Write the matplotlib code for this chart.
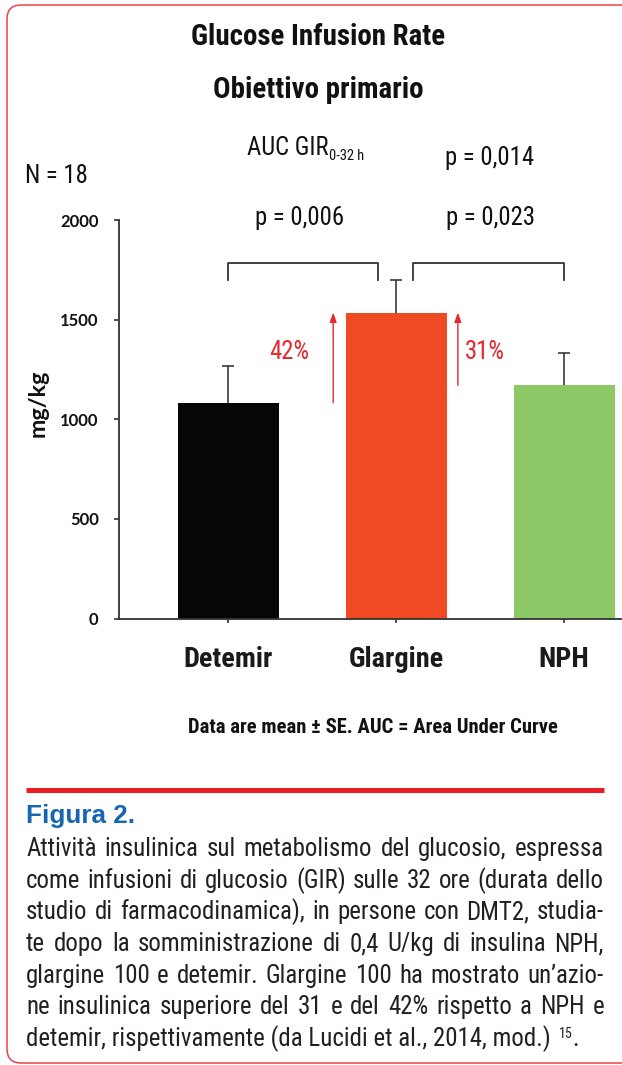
import os
import matplotlib
matplotlib.use('Agg')
import matplotlib.pyplot as plt
from matplotlib import font_manager
from matplotlib.font_manager import FontProperties
from matplotlib.patches import FancyBboxPatch

# ---------------- data ----------------
categories = ['Detemir', 'Glargine', 'NPH']
gir_auc = [1083, 1535, 1170]          # mg/kg
gir_se = [182, 162, 165]              # SE (upper)
bar_colors = ['#060606', '#ef4a24', '#8dc866']
yticks = [0, 500, 1000, 1500, 2000]
p_values = ['p = 0,006', 'p = 0,023', 'p = 0,014']
pct_labels = ['42%', '31%']

title1 = 'Glucose Infusion Rate'
title2 = 'Obiettivo primario'
note = 'Data are mean \u00b1 SE. AUC = Area Under Curve'
fig_label = 'Figura 2.'
body_lines = [
    "Attività insulinica sul metabolismo del glucosio, espressa",
    "come infusioni di glucosio (GIR) sulle 32 ore (durata dello",
    "studio di farmacodinamica), in persone con DMT2, studia-",
    "te dopo la somministrazione di 0,4 U/kg di insulina NPH,",
    "glargine 100 e detemir. Glargine 100 ha mostrato un\u2019azio-",
    "ne insulinica superiore del 31 e del 42% rispetto a NPH e",
    "detemir, rispettivamente (da Lucidi et al., 2014, mod.)",
]

# ---------------- fonts ----------------
files = [f.fname for f in font_manager.fontManager.ttflist]
avail = {f.name for f in font_manager.fontManager.ttflist}
PREF = ['liberationsansnarrow', 'robotocondensed', 'notosans-condensed', 'notosanscondensed',
        'opensans_condensed', 'opensanscondensed', 'opensans-condensed', 'dejavusanscondensed']


def find_narrow(bold):
    cands = []
    for fn in files:
        b = os.path.basename(fn).lower()
        if not ('condensed' in b or 'narrow' in b):
            continue
        if any(k in b for k in ['italic', 'semicond', 'extracond', 'ultracond', 'oblique']):
            continue
        isbold = 'bold' in b and not any(k in b for k in ['semibold', 'extrabold', 'ultrabold', 'demibold'])
        isreg = not any(k in b for k in ['bold', 'light', 'thin', 'black', 'medium', 'heavy', 'book'])
        if (bold and isbold) or ((not bold) and isreg):
            rank = len(PREF)
            for i, p in enumerate(PREF):
                if b.startswith(p):
                    rank = i
                    break
            cands.append((rank, b, fn))
    cands.sort()
    return cands[0][2] if cands else None


NARROW_REG = find_narrow(False)
NARROW_BOLD = find_narrow(True)
BOLDSANS = 'Lato' if 'Lato' in avail else 'DejaVu Sans'


def fp(bold=False, size=12):
    path = NARROW_BOLD if bold else NARROW_REG
    if path:
        return FontProperties(fname=path, size=size)
    return FontProperties(family='Liberation Sans', weight='bold' if bold else 'normal', size=size)


RED = '#e8262d'
DARK = '#231f20'
INK = '#111111'

W, H = 622, 1065
fig = plt.figure(figsize=(W / 100, H / 100), dpi=100)
rend = fig.canvas.get_renderer()


def width(t):
    return t.get_window_extent(renderer=rend).width


def fit(texts, targets):
    s = sum(targets) / sum(width(t) for t in texts)
    for t in texts:
        t.set_fontsize(t.get_fontsize() * s)


# overlay axes in pixel coordinates
ov = fig.add_axes([0, 0, 1, 1])
ov.set_xlim(0, W)
ov.set_ylim(H, 0)
ov.axis('off')

# main chart axes
ax = fig.add_axes([119 / W, (H - 618.5) / H, 504 / W, 398.5 / H])
ax.patch.set_alpha(0)
x = list(range(len(categories)))
ax.bar(x, gir_auc, width=0.6, color=bar_colors, zorder=2)
tops = [v + e for v, e in zip(gir_auc, gir_se)]
ax.vlines(x, gir_auc, tops, color='#3a3a3a', lw=1.2, zorder=1)
ax.plot(x, tops, ls='none', marker='_', ms=8.6, mew=1.2, color='#3a3a3a', zorder=1)
ax.set_xlim(-0.65, 2.35)
ax.set_ylim(0, 2000)
for s in ['top', 'right']:
    ax.spines[s].set_visible(False)
for s in ['left', 'bottom']:
    ax.spines[s].set_color('#333333')
    ax.spines[s].set_linewidth(1.3)
ax.set_yticks(yticks)
ax.set_yticklabels([str(v) for v in yticks], fontfamily=BOLDSANS, fontweight='bold',
                   fontsize=12, color=INK)
ax.tick_params(axis='y', length=3.6, width=1.2, pad=11, color='#333333')
ax.set_xticks(x)
ax.set_xticklabels(categories, fontproperties=fp(True, 21), color='#1a1a1a')
ax.tick_params(axis='x', length=3, width=1.2, pad=17, color='#333333')
fig.canvas.draw()
fit(ax.get_xticklabels(), [92, 95, 48])

# significance brackets
br_lo, br_hi = 1700, 1783
for x0, x1 in [(0, 0.89), (1.1, 2.0)]:
    ax.plot([x0, x0, x1, x1], [br_lo, br_hi, br_hi, br_lo], color='#333333',
            lw=1.3, clip_on=False, zorder=3)

# percentage arrows
arrow_kw = dict(arrowstyle='-|>,head_length=0.55,head_width=0.2', color=RED, lw=1.0,
                shrinkA=0, shrinkB=0)
ax.annotate('', xy=(0.625, gir_auc[1]), xytext=(0.625, gir_auc[0]), arrowprops=arrow_kw)
ax.annotate('', xy=(1.367, gir_auc[1]), xytext=(1.367, gir_auc[2]), arrowprops=arrow_kw)

# ---------------- texts ----------------
t1 = ov.text(318.5, 45, title1, ha='center', va='baseline', fontproperties=fp(True, 20), color=INK)
t2 = ov.text(318, 98, title2, ha='center', va='baseline', fontproperties=fp(True, 20), color=INK)
fit([t1, t2], [254, 209])

reg = lambda: fp(False, 17)
t_auc = ov.text(247, 155, 'AUC GIR', ha='left', va='baseline', fontproperties=reg(), color=INK)
tp14 = ov.text(490, 165, p_values[2], ha='center', va='baseline', fontproperties=reg(), color=INK)
tn = ov.text(25, 182.7, 'N = 18', ha='left', va='baseline', fontproperties=reg(), color=INK)
tp06 = ov.text(300, 225.5, p_values[0], ha='center', va='baseline', fontproperties=reg(), color=INK)
tp23 = ov.text(490, 225.5, p_values[1], ha='center', va='baseline', fontproperties=reg(), color=INK)
t42 = ov.text(269, 359, pct_labels[0], ha='left', va='baseline', fontproperties=reg(), color=RED)
t31 = ov.text(465, 359, pct_labels[1], ha='left', va='baseline', fontproperties=reg(), color=RED)
fit([t_auc, tp14, tn, tp06, tp23, t42, t31], [77, 90, 64, 89, 90, 41, 42])
sub_size = t_auc.get_fontsize() * 0.58
ov.text(247 + width(t_auc) + 0.5, 160, '0-32 h', ha='left', va='baseline',
        fontproperties=fp(False, sub_size), color=INK)

ov.text(38, 403, 'mg/kg', ha='center', va='center', rotation=90, fontsize=16.8,
        fontfamily=BOLDSANS, fontweight='bold', color=INK)

tnote = ov.text(188, 733.3, note, ha='left', va='baseline', fontproperties=fp(True, 14), color=INK)
fit([tnote], [373])

# caption block
ov.plot([26, 604], [790, 790], color='#ec1c24', lw=3.6, solid_capstyle='butt')
tf = ov.text(26, 823.3, fig_label, ha='left', va='baseline', fontsize=18, fontweight='bold',
             fontfamily='Liberation Sans', color='#1766b1')
fit([tf], [109])

x_left, x_right = 26, 604
yb_last = 856 + 6 * 31.67
last = ov.text(x_left, yb_last, body_lines[-1], ha='left', va='baseline',
               fontproperties=fp(False, 17), color=DARK)
fit([last], [524])
body_size = last.get_fontsize()
wl = width(last)
sup_x = x_left + wl + 8
tsup = ov.text(sup_x, yb_last - 8, '15', ha='left', va='baseline',
               fontproperties=fp(False, body_size * 0.56), color=DARK)
ov.text(sup_x + width(tsup) - 0.5, yb_last, '.', ha='left', va='baseline',
        fontproperties=fp(False, body_size), color=DARK)

for i, line in enumerate(body_lines[:-1]):
    yb = 856 + i * 31.67
    words = line.split(' ')
    ts = [ov.text(0, yb, w, ha='left', va='baseline', fontproperties=fp(False, body_size),
                  color=DARK) for w in words]
    widths = [width(t) for t in ts]
    gap = (x_right - x_left - sum(widths)) / (len(words) - 1)
    cx = x_left
    for t, w in zip(ts, widths):
        t.set_x(cx)
        cx += w + gap

# rounded frame
frame = FancyBboxPatch((7, 5), 660, 1058, boxstyle='round,pad=0,rounding_size=14',
                       ec='#e9434f', fc='none', lw=1.1, clip_on=False)
ov.add_patch(frame)

fig.savefig('out.png', dpi=100)
